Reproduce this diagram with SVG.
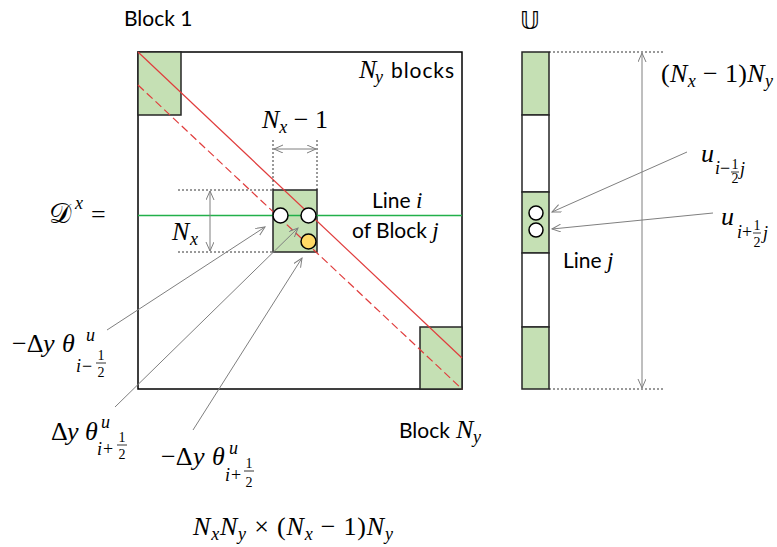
<svg xmlns="http://www.w3.org/2000/svg" width="777" height="547" viewBox="0 0 777 547">
<defs>
<marker id="arr" markerWidth="10" markerHeight="10" refX="9" refY="4" orient="auto-start-reverse" markerUnits="userSpaceOnUse">
<path d="M0,0 L9,4 L0,8" fill="none" stroke="#7f7f7f" stroke-width="1"/>
</marker>
</defs>
<style>
.blk{fill:#c5e0b4;stroke:#262626;stroke-width:1.5}
.frame{fill:none;stroke:#000;stroke-width:1.5}
.dot{stroke:#000;stroke-width:0.8;stroke-dasharray:2 2;fill:none}
.gr{stroke:#7f7f7f;stroke-width:1;fill:none}
.red{stroke:#e03c3c;stroke-width:1.2;fill:none}
.lab{font-family:Lato,"Liberation Sans",sans-serif;font-size:21px;fill:#000}
.m{font-family:"Liberation Serif","DejaVu Serif",serif;font-size:26px;fill:#000}
.mi{font-family:"Liberation Serif","DejaVu Serif",serif;font-size:26px;font-style:italic;fill:#000}
.si{font-family:"Liberation Serif","DejaVu Serif",serif;font-size:18px;font-style:italic;fill:#000}
.ss{font-family:"Liberation Serif","DejaVu Serif",serif;font-size:18px;fill:#000}
.fr{font-family:"Liberation Serif","DejaVu Serif",serif;font-size:14px;fill:#000;text-anchor:middle}
.fl{stroke:#000;stroke-width:0.8}
.cir{fill:#fff;stroke:#000;stroke-width:1.5}
.it{font-style:italic}
</style>
<rect width="777" height="547" fill="#fff"/>

<g id="matrix">
<rect class="frame" x="138" y="52" width="324" height="337"/>
</g>
<g id="block1"><rect class="blk" x="138" y="52" width="43" height="63"/></g>
<g id="blockNy"><rect class="blk" x="420" y="327" width="42" height="62"/></g>
<g id="blockj"><rect class="blk" x="273" y="190" width="44" height="62"/></g>

<g id="diagonals">
<line class="red" x1="138" y1="52" x2="462" y2="358"/>
<line class="red" x1="138" y1="85" x2="462" y2="389" stroke-dasharray="8 4"/>
<line x1="138" y1="215.5" x2="462" y2="215.5" stroke="#22b04a" stroke-width="1.5"/>
</g>

<g id="entries">
<circle class="cir" cx="280.5" cy="215.5" r="7.5"/>
<circle class="cir" cx="308.5" cy="215.5" r="7.5"/>
<circle cx="308.5" cy="241.5" r="7.5" fill="#ffd966" stroke="#000" stroke-width="1.5"/>
</g>

<g id="vector">
<rect class="blk" x="522" y="52" width="27" height="63"/>
<rect x="522" y="115" width="27" height="77" fill="#fff" stroke="#262626" stroke-width="1.5"/>
<rect class="blk" x="522" y="192" width="27" height="61"/>
<rect x="522" y="253" width="27" height="74" fill="#fff" stroke="#262626" stroke-width="1.5"/>
<rect class="blk" x="522" y="327" width="27" height="62"/>
<circle class="cir" cx="536" cy="213" r="7"/>
<circle class="cir" cx="536" cy="230" r="7"/>
</g>

<g id="connectors">
<line class="dot" x1="178" y1="190" x2="273" y2="190"/>
<line class="dot" x1="178" y1="252" x2="273" y2="252"/>
<line class="dot" x1="273" y1="140" x2="273" y2="190"/>
<line class="dot" x1="317" y1="140" x2="317" y2="190"/>
<line class="dot" x1="549" y1="52" x2="665" y2="52"/>
<line class="dot" x1="549" y1="389" x2="665" y2="389"/>
<line class="gr" x1="210" y1="191" x2="210" y2="251" marker-start="url(#arr)" marker-end="url(#arr)"/>
<line class="gr" x1="274" y1="149" x2="316" y2="149" marker-start="url(#arr)" marker-end="url(#arr)"/>
<line class="gr" x1="642" y1="53" x2="642" y2="388" marker-start="url(#arr)" marker-end="url(#arr)"/>
<line class="gr" x1="107" y1="330" x2="265" y2="227" marker-end="url(#arr)"/>
<line class="gr" x1="115" y1="407" x2="298" y2="228" marker-end="url(#arr)"/>
<line class="gr" x1="193" y1="430" x2="302" y2="258" marker-end="url(#arr)"/>
<line class="gr" x1="687" y1="152" x2="552" y2="212" marker-end="url(#arr)"/>
<line class="gr" x1="713" y1="213" x2="552" y2="229" marker-end="url(#arr)"/>
</g>

<g id="labels">
<text class="lab" x="124" y="26">Block 1</text>
<text x="520" y="29" font-family="DejaVu Sans,sans-serif" font-size="24">𝕌</text>

<text class="mi" x="359" y="78">N</text><text class="si" x="375" y="83">y</text><text class="lab" x="391" y="78" textLength="63">blocks</text>

<text class="m" x="262" y="128" textLength="66"><tspan class="it">N</tspan><tspan class="it" font-size="18" dy="5">x</tspan><tspan dy="-5"> − 1</tspan></text>

<text class="lab" x="372" y="208">Line <tspan font-family="Liberation Serif,serif" font-style="italic" font-size="23">i</tspan></text>
<text class="lab" x="352" y="238">of Block <tspan font-family="Liberation Serif,serif" font-style="italic" font-size="23">j</tspan></text>

<text x="49" y="223" font-family="DejaVu Sans,sans-serif" font-size="28">𝒟</text><text class="si" x="75" y="209">x</text><text class="m" x="91" y="223">=</text>

<text class="mi" x="172" y="240">N</text><text class="si" x="190" y="245">x</text>

<text class="m" x="12" y="352">−Δ</text><text class="mi" x="43" y="352">y</text><text class="mi" x="62" y="352">θ</text>
<text class="si" x="86" y="341">u</text><text class="si" x="76" y="372">i</text><text class="ss" x="82" y="372">−</text>
<text class="fr" x="101" y="360">1</text><line class="fl" x1="96" y1="363" x2="106" y2="363"/><text class="fr" x="101" y="377">2</text>

<text class="m" x="51" y="440">Δ</text><text class="mi" x="67" y="440">y</text><text class="mi" x="85" y="440">θ</text>
<text class="si" x="101" y="428">u</text><text class="si" x="97" y="455">i</text><text class="ss" x="103" y="455">+</text>
<text class="fr" x="122" y="442">1</text><line class="fl" x1="117" y1="445" x2="127" y2="445"/><text class="fr" x="122" y="459">2</text>

<text class="m" x="161" y="465">−Δ</text><text class="mi" x="193" y="465">y</text><text class="mi" x="212" y="465">θ</text>
<text class="si" x="229" y="454">u</text><text class="si" x="225" y="481">i</text><text class="ss" x="231" y="481">+</text>
<text class="fr" x="249" y="468">1</text><line class="fl" x1="244" y1="471" x2="254" y2="471"/><text class="fr" x="249" y="487">2</text>

<text class="lab" x="399" y="438">Block</text><text class="mi" x="456" y="438">N</text><text class="si" x="473" y="443">y</text>

<text class="m" x="661" y="82" textLength="112"><tspan>(</tspan><tspan class="it">N</tspan><tspan class="it" font-size="18" dy="5">x</tspan><tspan dy="-5"> − 1)</tspan><tspan class="it">N</tspan><tspan class="it" font-size="18" dy="5">y</tspan></text>

<text class="mi" x="701" y="162">u</text><text class="si" x="715" y="174">i</text><text class="ss" x="720" y="174">−</text>
<text class="fr" x="735" y="169">1</text><line class="fl" x1="731" y1="172" x2="739" y2="172"/><text class="fr" x="735" y="183">2</text><text class="si" x="740" y="175">j</text>

<text class="mi" x="721" y="225">u</text><text class="si" x="737" y="238">i</text><text class="ss" x="742" y="238">+</text>
<text class="fr" x="757" y="230">1</text><line class="fl" x1="753" y1="233" x2="761" y2="233"/><text class="fr" x="757" y="247">2</text><text class="si" x="763" y="239">j</text>

<text class="lab" x="563" y="268">Line <tspan font-family="Liberation Serif,serif" font-style="italic" font-size="23">j</tspan></text>

<text class="m" x="193" y="535" textLength="200"><tspan class="it">N</tspan><tspan class="it" font-size="18" dy="5">x</tspan><tspan class="it" dy="-5">N</tspan><tspan class="it" font-size="18" dy="5">y</tspan><tspan dy="-5"> × (</tspan><tspan class="it">N</tspan><tspan class="it" font-size="18" dy="5">x</tspan><tspan dy="-5"> − 1)</tspan><tspan class="it">N</tspan><tspan class="it" font-size="18" dy="5">y</tspan></text>
</g>
</svg>
